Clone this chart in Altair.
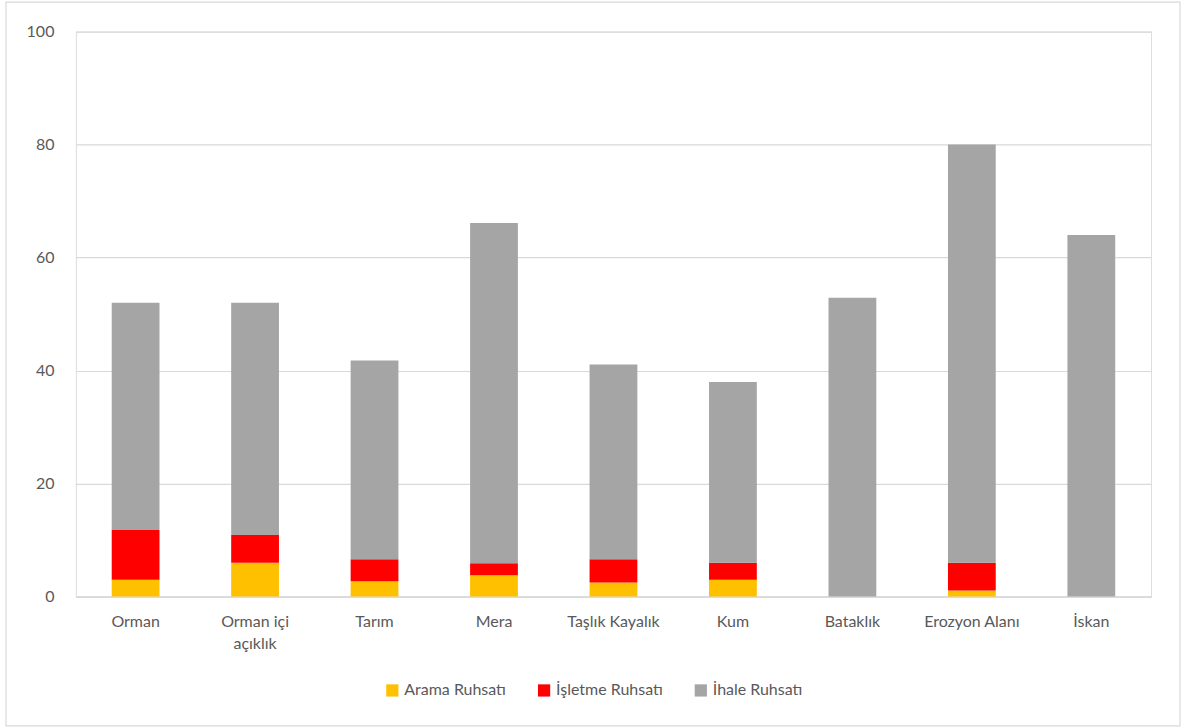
import altair as alt
import pandas as pd

categories = ["Orman", "Orman içi açıklık", "Tarım", "Mera", "Taşlık Kayalık",
              "Kum", "Bataklık", "Erozyon Alanı", "İskan"]
series = ["Arama Ruhsatı", "İşletme Ruhsatı", "İhale Ruhsatı"]
arama = [3.0, 6.0, 2.7, 3.8, 2.5, 3.0, 0.0, 1.1, 0.0]
isletme = [8.8, 4.9, 3.9, 2.1, 4.1, 3.0, 0.0, 4.9, 0.0]
ihale = [40.2, 41.1, 35.2, 60.2, 34.5, 32.0, 52.9, 74.0, 64.0]
colors = ["#FFC000", "#FF0000", "#A5A5A5"]

rows = []
for i, cat in enumerate(categories):
    for k, vals in enumerate([arama, isletme, ihale]):
        rows.append({"kategori": cat, "ruhsat": series[k], "deger": vals[i], "sira": k})
df = pd.DataFrame(rows)

W, H = 1077, 566
FONT = "Lato"
TXT = "#595959"

bars = alt.Chart(df).mark_bar().encode(
    x=alt.X("kategori:N", sort=categories, title=None,
            scale=alt.Scale(paddingInner=0.6, paddingOuter=0.3),
            axis=alt.Axis(labelAngle=0, ticks=False, domain=True, domainColor="#D9D9D9",
                          domainWidth=1.5, labelPadding=17, labelFontSize=16,
                          labelColor=TXT, labelFont=FONT, labelLineHeight=22,
                          labelExpr="datum.label == 'Orman içi açıklık' ? ['Orman içi', 'açıklık'] : datum.label")),
    y=alt.Y("deger:Q", title=None, stack="zero",
            scale=alt.Scale(domain=[0, 100], nice=False),
            axis=alt.Axis(values=[0, 20, 40, 60, 80, 100], ticks=False, domain=False,
                          gridColor="#D9D9D9", gridWidth=1.2, labelPadding=22,
                          labelFontSize=16, labelColor=TXT, labelFont=FONT)),
    color=alt.Color("ruhsat:N", scale=alt.Scale(domain=series, range=colors),
                    legend=alt.Legend(title=None, orient="none", direction="horizontal",
                                      legendX=309, legendY=652, symbolType="square",
                                      symbolSize=150, symbolStrokeWidth=0,
                                      labelFontSize=16, labelColor=TXT, labelFont=FONT,
                                      columnPadding=30, labelOffset=4)),
    order=alt.Order("sira:Q", sort="ascending"),
)

# outer chart frame
frame = alt.Chart(pd.DataFrame({"k": [0]})).mark_rect(
    fill=None, stroke="#D9D9D9", strokeWidth=1.2
).encode(
    x=alt.value(-70), x2=alt.value(1106), y=alt.value(-29.5), y2=alt.value(695.5)
)

chart = alt.layer(frame, bars).properties(
    width=W, height=H,
    padding={"left": 5, "top": 0, "right": 2, "bottom": 2},
).configure_view(stroke=None).configure(background="white")

chart.save("out.html", embed_options={"renderer": "svg", "actions": False})
